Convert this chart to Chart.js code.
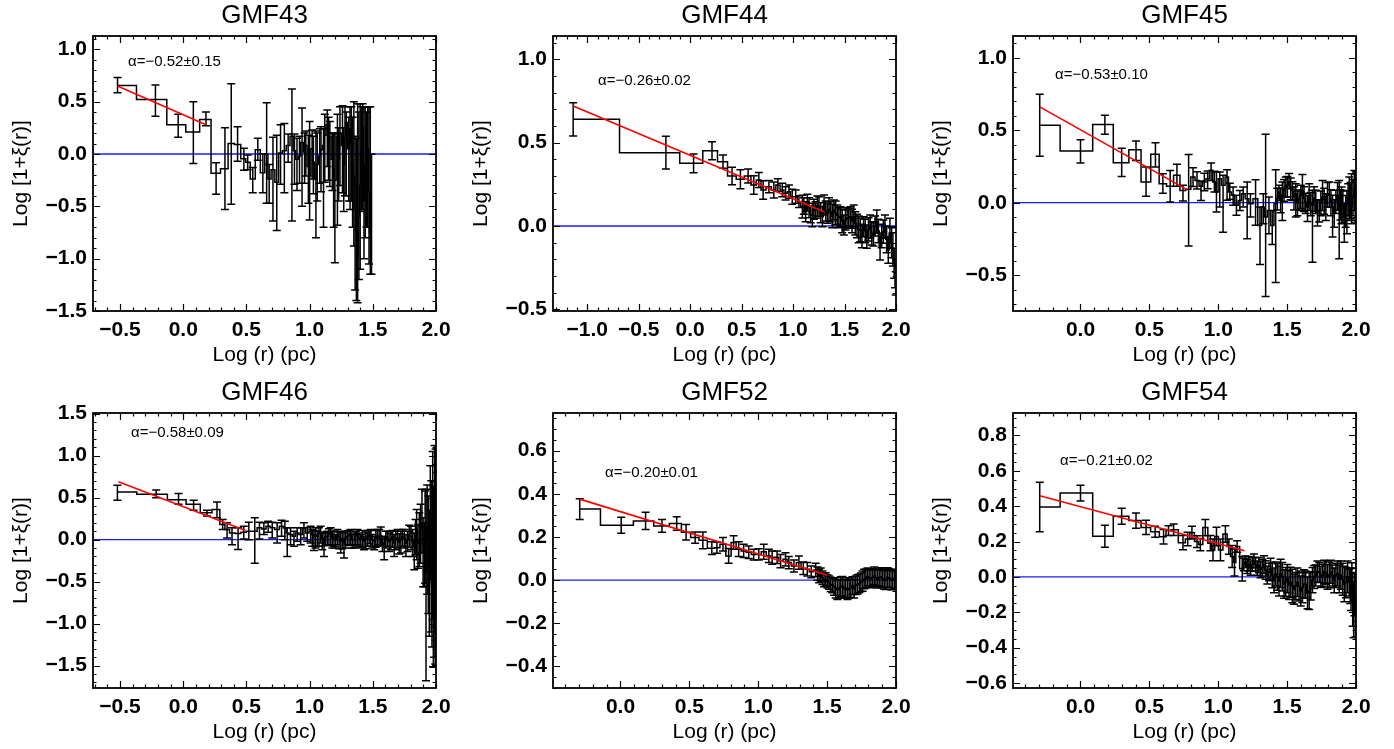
<!DOCTYPE html>
<html>
<head>
<meta charset="utf-8">
<script src="https://cdn.jsdelivr.net/npm/chart.js@4.4.1/dist/chart.umd.min.js"></script>
<style>
  body { margin: 0; background: #fff; }
  canvas { position: absolute; }
</style>
</head>
<body>
<canvas id="c43" width="460" height="372" style="left:0px;top:0px"></canvas>
<canvas id="c44" width="460" height="372" style="left:460px;top:0px"></canvas>
<canvas id="c45" width="460" height="372" style="left:920px;top:0px"></canvas>
<canvas id="c46" width="460" height="372" style="left:0px;top:377px"></canvas>
<canvas id="c52" width="460" height="372" style="left:460px;top:377px"></canvas>
<canvas id="c54" width="460" height="372" style="left:920px;top:377px"></canvas>
<script>
//// data: log r, log(1+xi), upper / lower error

let titles = ['GMF43', 'GMF44', 'GMF45', 'GMF46', 'GMF52', 'GMF54'];
let notes = ['α=−0.52±0.15', 'α=−0.26±0.02', 'α=−0.53±0.10', 'α=−0.58±0.09', 'α=−0.20±0.01', 'α=−0.21±0.02'];

// GMF43
let x43 = [-0.52,-0.22,-0.04,0.08,0.18,0.26,0.33,0.38,0.43,0.48,0.51,0.55,0.59,0.63,0.66,0.68,0.71,0.74,0.77,0.80,0.83,
  0.86,0.88,0.90,0.92,0.94,0.96,0.97,0.99,1.00,1.02,
  1.03,1.05,1.06,1.08,1.09,1.11,1.12,1.14,1.15,1.16,
  1.18,1.19,1.20,1.22,1.23,1.24,1.26,1.27,1.28,1.29,
  1.31,1.32,1.33,1.34,1.35,1.36,1.37,1.38,1.39,1.40,
  1.41,1.42,1.43,1.44,1.45,1.46,1.47,1.48,1.49];
let y43 = [0.655,0.52,0.28,0.21,0.33,-0.185,-0.14,0.10,0.09,-0.045,-0.08,-0.24,0.04,-0.18,0.00,-0.24,-0.15,-0.27,0.01,0.03,0.08,
  0.17,0.03,-0.05,-0.02,0.11,0.02,0.08,-0.12,-0.21,0.05,
  -0.08,-0.24,-0.10,-0.02,0.04,0.08,0.18,0.28,0.10,0.17,
  -0.05,-0.15,-0.25,0.17,-0.05,0.20,0.08,-0.10,0.15,0.30,
  0.05,0.24,0.10,-0.10,-0.21,-0.53,-0.75,-0.98,-0.60,-0.30,
  0.05,0.25,-0.45,-0.10,0.20,0.05,-0.35,-0.75,-0.60];
let up43 = [0.075,0.14,0.10,0.29,0.07,0.10,0.39,0.57,0.17,0.10,0.07,0.11,0.11,0.18,0.49,0.14,0.31,0.45,0.27,0.26,0.11,
  0.45,0.16,0.20,0.19,0.33,0.18,0.14,0.30,0.52,0.18,
  0.25,0.46,0.30,0.26,0.22,0.16,0.20,0.14,0.25,0.14,
  0.25,0.35,0.44,0.21,0.30,0.25,0.38,0.35,0.30,0.10,
  0.30,0.21,0.35,0.45,0.71,0.70,0.90,1.46,1.00,0.78,
  0.40,0.23,0.90,0.55,0.20,0.40,0.80,1.20,0.60];
let dn43 = [0.07,0.16,0.12,0.30,0.06,0.20,0.39,0.58,0.16,0.11,0.07,0.13,0.10,0.19,0.47,0.23,0.49,0.46,0.30,0.40,0.16,
  0.81,0.32,0.30,0.26,0.61,0.30,0.29,0.35,0.42,0.29,
  0.30,0.56,0.35,0.26,0.40,0.78,0.45,0.40,0.35,0.48,
  0.30,0.55,0.79,0.85,0.40,0.50,0.45,0.45,0.55,0.70,
  0.50,0.77,0.55,0.60,0.67,0.77,0.65,0.44,0.60,0.80,
  0.60,0.78,0.55,0.70,0.90,0.75,0.70,0.40,0.55];
let fitX43 = [-0.52, 0.18];
let fitY43 = [0.65, 0.28];
let xRange43 = [-0.714, 2.0];
let yRange43 = [-1.5, 1.127];
let xTicks43 = [-0.5, 0, 0.5, 1, 1.5, 2];
let yTicks43 = [-1.5, -1, -0.5, 0, 0.5, 1];

// GMF44
let x44 = [-1.137,-0.236,0.033,0.212,
  0.319,0.407,0.488,0.563,0.618,0.667,0.709,0.765,0.813,0.852,
  0.895,0.927,0.960,0.992,1.025,1.057,1.090,
  1.105,1.122,1.139,1.155,1.171,1.187,1.203,1.220,1.236,1.252,
  1.268,1.285,1.301,1.317,1.333,1.349,1.365,1.381,1.397,1.413,
  1.429,1.445,1.461,1.477,1.493,1.509,1.525,1.541,1.557,1.573,
  1.589,1.605,1.621,1.637,1.653,1.669,1.685,1.701,1.717,1.733,
  1.749,1.765,1.781,1.797,1.813,1.829,1.845,1.861,1.877,1.893,
  1.909,1.925,1.941,1.957,1.970,1.982,1.991,1.997];
let y44 = [0.64,0.44,0.376,0.452,
  0.386,0.30,0.28,0.30,0.246,0.276,0.216,0.236,0.216,0.246,
  0.216,0.196,0.206,0.176,0.176,0.146,0.116,
  0.12,0.086,0.14,0.11,0.07,0.066,0.10,0.096,0.12,0.116,
  0.08,0.056,0.126,0.09,0.076,0.10,0.086,0.06,0.096,0.08,
  0.066,0.05,0.056,0.03,0.006,0.036,0.05,0.046,0.056,0.03,
  0.056,0.016,0.0,-0.02,-0.024,-0.06,-0.004,-0.03,-0.064,-0.02,
  -0.004,-0.044,-0.05,0.0,0.026,-0.03,-0.124,-0.06,-0.034,-0.004,
  -0.08,-0.144,-0.044,-0.1,-0.14,-0.224,-0.28,-0.344];
let err44 = [0.10,0.098,0.056,0.054,
  0.04,0.053,0.057,0.042,0.055,0.045,0.055,0.037,0.048,0.037,
  0.04,0.04,0.04,0.045,0.04,0.035,0.068,
  0.05,0.06,0.05,0.06,0.05,0.07,0.06,0.05,0.06,0.06,
  0.06,0.06,0.06,0.06,0.06,0.07,0.06,0.07,0.06,0.07,
  0.06,0.06,0.06,0.07,0.06,0.06,0.06,0.06,0.06,0.07,
  0.07,0.07,0.07,0.08,0.07,0.07,0.06,0.07,0.07,0.07,
  0.07,0.07,0.07,0.06,0.07,0.07,0.08,0.07,0.07,0.07,
  0.08,0.08,0.09,0.09,0.10,0.09,0.09,0.07];
let fitX44 = [-1.137, 1.30];
let fitY44 = [0.72, 0.086];
let xRange44 = [-1.333, 2.0];
let yRange44 = [-0.51, 1.14];
let xTicks44 = [-1, -0.5, 0, 0.5, 1, 1.5, 2];
let yTicks44 = [-0.5, 0, 0.5, 1];

// GMF45
let x45 = [-0.296,0.0,0.177,0.299,0.403,0.476,0.544,0.598,0.651,0.70,0.744,0.785,
  0.817,0.846,0.875,0.899,0.923,0.948,0.972,0.987,1.011,1.035,
  1.064,1.084,1.108,1.132,1.157,1.181,1.210,1.234,1.271,1.303,
  1.327,1.344,1.368,1.392,
  1.417,1.429,1.441,1.453,1.465,1.478,1.490,1.502,1.514,1.526,
  1.538,1.550,1.563,1.575,1.587,1.599,1.611,1.623,1.635,1.648,
  1.660,1.672,1.684,1.696,1.708,1.720,1.733,1.745,1.757,1.769,
  1.781,1.793,1.806,1.818,1.830,1.842,1.854,1.866,1.878,1.887,
  1.895,1.905,1.915,1.925,1.934,1.943,1.951,1.960,1.968,1.978,
  1.988,1.994,2.0];
let y45 = [0.535,0.357,0.539,0.276,0.366,0.143,0.334,0.131,0.113,0.189,0.085,0.092,
  0.177,0.154,0.113,0.143,0.166,0.224,0.143,0.074,0.166,0.12,
  0.177,0.074,0.051,-0.018,0.016,0.062,0.028,-0.007,0.028,-0.157,
  -0.03,-0.099,-0.053,-0.157,
  -0.007,0.03,0.074,0.02,0.051,0.09,0.108,0.12,0.143,0.10,
  0.085,0.04,0.062,0.0,0.028,0.05,0.085,0.03,0.005,-0.03,
  0.039,0.0,-0.018,0.03,0.016,-0.06,-0.053,0.0,0.039,0.02,
  -0.007,0.06,0.051,0.01,-0.03,-0.07,0.016,0.05,-0.053,0.0,
  0.039,-0.02,-0.099,-0.05,-0.007,0.03,0.062,0.02,-0.03,0.04,
  0.085,0.0,0.028];
let up45 = [0.214,0.078,0.065,0.10,0.06,0.104,0.08,0.069,0.11,0.076,0.035,0.24,
  0.065,0.06,0.037,0.06,0.053,0.05,0.074,0.138,0.046,0.069,
  0.05,0.06,0.058,0.069,0.069,0.046,0.115,0.069,0.131,0.127,
  0.092,0.571,0.092,0.104,
  0.235,0.07,0.046,0.08,0.092,0.07,0.069,0.06,0.058,0.07,
  0.06,0.07,0.069,0.08,0.06,0.07,0.11,0.08,0.06,0.08,
  0.092,0.07,0.104,0.08,0.07,0.08,0.07,0.08,0.115,0.08,
  0.069,0.08,0.092,0.08,0.081,0.09,0.07,0.09,0.207,0.09,
  0.069,0.10,0.092,0.10,0.092,0.10,0.115,0.12,0.23,0.12,
  0.138,0.15,0.184];
let dn45 = [0.214,0.083,0.067,0.095,0.074,0.099,0.088,0.065,0.108,0.076,0.074,0.39,
  0.065,0.06,0.097,0.06,0.069,0.07,0.069,0.138,0.196,0.323,
  0.16,0.05,0.069,0.069,0.069,0.092,0.276,0.092,0.184,0.27,
  0.115,0.548,0.161,0.131,
  0.544,0.08,0.058,0.09,0.173,0.08,0.069,0.08,0.046,0.08,
  0.07,0.09,0.161,0.09,0.08,0.09,0.138,0.09,0.08,0.10,
  0.092,0.09,0.392,0.09,0.09,0.10,0.08,0.09,0.092,0.10,
  0.115,0.09,0.081,0.10,0.207,0.10,0.09,0.10,0.334,0.12,
  0.184,0.12,0.173,0.12,0.207,0.12,0.184,0.13,0.115,0.13,
  0.138,0.14,0.15];
let fitX45 = [-0.296, 0.773];
let fitY45 = [0.661, 0.09];
let xRange45 = [-0.49, 2.0];
let yRange45 = [-0.747, 1.15];
let xTicks45 = [0, 0.5, 1, 1.5, 2];
let yTicks45 = [-0.5, 0, 0.5, 1];

// GMF46
let x46 = [-0.521,-0.214,-0.037,0.082,0.188,0.267,
  0.312,0.347,0.386,0.434,0.479,0.519,0.566,0.603,0.638,0.672,
  0.704,0.743,0.778,0.804,0.823,0.849,0.876,0.902,0.929,0.955,
  0.981,
  1.008,1.021,1.034,1.047,1.061,1.074,1.087,1.100,1.114,1.127,
  1.140,1.153,1.167,1.180,1.193,1.206,1.220,1.233,1.246,1.259,
  1.272,1.285,1.299,1.312,1.325,1.338,1.352,1.365,1.378,1.391,
  1.405,1.418,1.431,1.444,1.458,1.471,1.484,1.497,1.511,1.524,
  1.537,1.550,1.563,1.576,1.590,1.603,1.616,1.629,1.643,1.656,
  1.669,1.682,1.696,1.709,1.722,1.735,1.749,1.762,1.775,1.788,
  1.802,1.815,1.828,1.838,1.847,1.857,1.868,1.878,1.889,1.898,
  1.907,1.914,1.921,1.930,1.939,1.947,1.955,1.962,1.968,1.974,
  1.979,1.984,1.989,1.994,1.997,2.0];
let y46 = [0.568,0.54,0.476,0.42,0.32,0.36,
  0.18,0.12,0.08,0.072,0.088,0.10,0.10,0.14,0.128,0.16,
  0.14,0.12,0.16,0.14,0.08,0.06,0.04,0.08,0.06,0.14,
  0.08,
  0.10,0.06,0.03,0.06,0.04,0.08,0.08,0.02,-0.04,0.03,
  0.04,0.07,0.08,0.02,0.04,0.0,0.06,0.03,-0.02,0.01,
  -0.04,0.02,0.04,0.05,0.06,0.0,0.0,0.04,0.06,0.02,
  0.0,0.03,-0.02,0.01,0.02,0.05,0.04,0.0,-0.02,0.03,
  0.02,0.04,0.05,-0.04,-0.06,0.0,0.02,-0.02,0.0,0.03,
  -0.04,0.0,0.02,-0.03,0.0,0.04,0.02,-0.04,0.0,0.05,
  0.04,-0.02,-0.08,0.06,0.10,-0.04,0.0,0.12,0.2,-0.06,
  -0.16,0.08,-0.4,0.15,0.0,-0.25,0.32,-0.1,-0.56,0.25,
  -0.08,-0.88,0.52,-1.08,0.32,-0.5];
let up46 = [0.08,0.05,0.072,0.05,0.03,0.088,
  0.06,0.08,0.06,0.07,0.07,0.108,0.16,0.068,0.072,0.06,
  0.068,0.08,0.072,0.08,0.06,0.08,0.06,0.06,0.08,0.06,
  0.06,
  0.06,0.06,0.08,0.08,0.06,0.06,0.08,0.06,0.12,0.06,
  0.06,0.06,0.06,0.08,0.06,0.06,0.06,0.06,0.12,0.08,
  0.12,0.08,0.06,0.06,0.06,0.06,0.08,0.06,0.06,0.06,
  0.06,0.08,0.06,0.08,0.06,0.06,0.08,0.06,0.06,0.08,
  0.1,0.08,0.1,0.06,0.1,0.1,0.08,0.1,0.1,0.08,
  0.1,0.1,0.1,0.1,0.1,0.08,0.1,0.1,0.1,0.12,
  0.12,0.14,0.16,0.18,0.26,0.22,0.32,0.3,0.4,0.32,
  0.36,0.5,1.0,0.5,0.52,0.6,0.56,0.8,0.56,0.8,
  0.72,0.6,0.6,0.6,0.76,0.9];
let dn46 = [0.10,0.04,0.056,0.07,0.04,0.10,
  0.06,0.10,0.14,0.19,0.08,0.10,0.38,0.132,0.068,0.072,
  0.12,0.16,0.12,0.14,0.28,0.12,0.12,0.10,0.12,0.12,
  0.10,
  0.14,0.14,0.16,0.16,0.12,0.16,0.12,0.14,0.16,0.10,
  0.10,0.14,0.14,0.12,0.12,0.10,0.12,0.14,0.14,0.12,
  0.18,0.12,0.10,0.12,0.12,0.10,0.10,0.10,0.12,0.10,
  0.10,0.12,0.10,0.12,0.10,0.10,0.12,0.10,0.10,0.12,
  0.10,0.10,0.12,0.10,0.18,0.10,0.10,0.12,0.12,0.12,
  0.16,0.12,0.12,0.14,0.16,0.12,0.12,0.16,0.14,0.14,
  0.16,0.18,0.28,0.24,0.34,0.30,0.32,0.40,0.36,0.50,
  0.40,0.60,1.28,0.80,0.88,0.90,0.80,1.0,0.72,1.2,
  1.44,0.52,1.56,0.40,1.52,1.0];
let fitX46 = [-0.513, 0.492];
let fitY46 = [0.688, 0.108];
let xRange46 = [-0.714, 2.0];
let yRange46 = [-1.767, 1.508];
let xTicks46 = [-0.5, 0, 0.5, 1, 1.5, 2];
let yTicks46 = [-1.5, -1, -0.5, 0, 0.5, 1, 1.5];

// GMF52
let x52 = [-0.296,0.005,0.182,0.301,0.408,
  0.476,0.542,0.598,0.663,0.700,0.744,0.785,0.821,0.858,0.894,
  0.931,0.967,1.004,1.040,1.077,1.101,1.137,1.162,1.198,1.222,
  1.259,1.295,1.327,1.356,1.385,
  1.417,1.430,1.442,1.454,1.466,1.478,1.490,1.502,1.514,1.526,
  1.538,1.550,1.562,1.575,1.587,1.599,1.611,1.623,1.635,1.648,
  1.660,1.672,1.684,1.696,1.708,1.720,1.733,1.745,1.757,1.769,
  1.781,1.793,1.805,1.818,1.830,1.842,1.854,1.866,1.878,1.891,
  1.903,1.915,1.927,1.939,1.951,1.964,1.976,1.988,2.0];
let y52 = [0.329,0.254,0.274,0.251,0.262,
  0.222,0.197,0.184,0.148,0.150,0.166,0.112,0.174,0.143,0.135,
  0.129,0.118,0.119,0.131,0.112,0.104,0.106,0.088,0.096,0.081,
  0.065,0.081,0.055,0.050,0.038,
  0.047,0.03,0.019,0.025,0.011,0.0,0.003,-0.006,-0.012,-0.02,
  -0.024,-0.03,-0.036,-0.045,-0.040,-0.03,-0.029,-0.04,-0.036,-0.045,
  -0.040,-0.035,-0.026,-0.04,-0.024,-0.02,-0.016,-0.01,-0.005,0.005,
  0.007,0.015,0.011,0.005,0.012,0.02,0.012,0.005,0.012,0.015,
  0.007,0.0,0.003,0.012,0.009,0.0,-0.001,0.006,0.0];
let err52 = [0.048,0.037,0.040,0.030,0.031,
  0.036,0.026,0.039,0.029,0.026,0.031,0.034,0.031,0.034,0.031,
  0.029,0.025,0.026,0.035,0.031,0.031,0.029,0.031,0.031,0.028,
  0.028,0.031,0.029,0.031,0.027,
  0.031,0.031,0.031,0.031,0.031,0.031,0.031,0.031,0.031,0.033,
  0.035,0.04,0.047,0.045,0.043,0.045,0.045,0.043,0.047,0.045,
  0.043,0.045,0.041,0.043,0.043,0.045,0.043,0.043,0.047,0.045,
  0.043,0.041,0.039,0.041,0.040,0.040,0.040,0.042,0.043,0.042,
  0.043,0.043,0.047,0.045,0.044,0.045,0.043,0.044,0.043];
let fitX52 = [-0.296, 1.502];
let fitY52 = [0.375, 0.022];
let xRange52 = [-0.49, 2.0];
let yRange52 = [-0.50, 0.774];
let xTicks52 = [0, 0.5, 1, 1.5, 2];
let yTicks52 = [-0.4, -0.2, 0, 0.2, 0.4, 0.6];

// GMF54
let x54 = [-0.296,0.0,0.177,0.299,0.403,0.476,
  0.542,0.603,0.639,0.676,0.744,0.778,0.809,0.846,0.870,0.906,
  0.943,0.962,0.987,1.016,1.052,1.077,1.101,1.118,1.137,
  1.174,1.186,1.198,1.210,1.222,1.235,1.247,1.259,1.271,1.283,
  1.295,1.307,1.320,1.332,1.344,1.356,1.368,1.380,1.392,1.405,
  1.417,1.429,1.441,1.453,1.465,1.478,1.490,1.502,1.514,1.526,
  1.538,1.550,1.563,1.575,1.587,1.599,1.611,1.623,1.635,1.648,
  1.660,1.672,1.684,1.696,1.708,1.720,1.733,1.745,1.757,1.769,
  1.781,1.793,1.806,1.818,1.830,1.842,1.854,1.866,1.878,1.890,
  1.903,1.915,1.927,1.939,1.951,1.958,1.964,1.970,1.976,1.983,1.989,1.995];
let y54 = [0.395,0.474,0.23,0.343,0.319,0.28,
  0.255,0.227,0.262,0.267,0.194,0.214,0.250,0.200,0.183,0.279,
  0.191,0.153,0.229,0.153,0.243,0.172,0.116,0.082,0.172,
  0.046,0.07,0.086,0.06,0.075,0.05,0.072,0.09,0.072,0.05,
  0.067,0.04,0.053,0.07,0.039,0.01,0.028,0.045,0.010,-0.02,
  0.017,0.0,-0.023,0.02,0.001,-0.04,-0.028,-0.01,-0.046,-0.03,
  -0.051,-0.07,-0.051,-0.03,-0.051,-0.08,-0.061,-0.04,-0.042,-0.09,
  -0.080,-0.05,-0.018,0.0,0.008,0.03,0.025,0.0,0.010,0.03,
  0.025,0.0,0.012,0.03,0.008,-0.02,0.009,0.02,-0.011,0.01,
  -0.013,-0.04,-0.032,0.0,-0.032,-0.05,-0.070,-0.03,-0.127,-0.184,-0.10,-0.22];
let err54 = [0.14,0.045,0.062,0.045,0.043,0.04,
  0.031,0.041,0.028,0.033,0.040,0.038,0.036,0.033,0.035,0.046,
  0.043,0.062,0.052,0.062,0.047,0.043,0.062,0.076,0.033,
  0.069,0.035,0.033,0.04,0.041,0.04,0.038,0.04,0.038,0.04,
  0.043,0.045,0.047,0.05,0.052,0.05,0.050,0.06,0.071,0.07,
  0.068,0.075,0.085,0.08,0.081,0.08,0.081,0.08,0.081,0.085,
  0.095,0.085,0.076,0.08,0.085,0.085,0.085,0.08,0.076,0.09,
  0.104,0.08,0.071,0.065,0.059,0.06,0.057,0.06,0.062,0.065,
  0.066,0.07,0.073,0.065,0.059,0.07,0.069,0.07,0.078,0.08,
  0.09,0.10,0.085,0.09,0.076,0.10,0.12,0.11,0.152,0.16,0.12,0.12];
let fitX54 = [-0.296, 1.191];
let fitY54 = [0.459, 0.148];
let xRange54 = [-0.49, 2.0];
let yRange54 = [-0.628, 0.927];
let xTicks54 = [0, 0.5, 1, 1.5, 2];
let yTicks54 = [-0.6, -0.4, -0.2, 0, 0.2, 0.4, 0.6, 0.8];

//// fonts, plugins

Chart.defaults.font.family = '"Liberation Sans", Arial, Helvetica, sans-serif';
Chart.defaults.color = '#000';

let fmt = function(v) {
    return Number(v).toFixed(1).replace('-', '\u2212');
};

// error bars drawn right after the histogram, so the red fit stays on top
const errorBars = {
    id: 'errorBars',
    afterDatasetDraw(chart, args) {
        let ds = chart.data.datasets[args.index];
        if (!ds.errUp) return;
        let xs = chart.scales.x, ys = chart.scales.y, ctx = chart.ctx, a = chart.chartArea;
        ctx.save();
        ctx.beginPath();
        ctx.rect(a.left, a.top, a.right - a.left, a.bottom - a.top);
        ctx.clip();
        ctx.strokeStyle = '#000';
        ctx.lineWidth = 1.5;
        ds.data.forEach(function(p, i) {
            let px = xs.getPixelForValue(p.x);
            let top = ys.getPixelForValue(p.y + ds.errUp[i]);
            let bot = ys.getPixelForValue(p.y - ds.errDn[i]);
            ctx.beginPath();
            ctx.moveTo(px, top); ctx.lineTo(px, bot);
            ctx.moveTo(px - 4, top); ctx.lineTo(px + 4, top);
            ctx.moveTo(px - 4, bot); ctx.lineTo(px + 4, bot);
            ctx.stroke();
        });
        ctx.restore();
    }
};

// IDL style box with inward ticks on all four sides, plus the alpha note
const frame = {
    id: 'frame',
    afterDraw(chart, args, opts) {
        let ctx = chart.ctx, a = chart.chartArea;
        let xs = chart.scales.x, ys = chart.scales.y;
        ctx.save();
        ctx.strokeStyle = '#000';
        ctx.lineWidth = 1.2;
        ctx.beginPath();
        let isMajor = function(scale, v) {
            return scale.ticks.some(t => Math.abs(t.value - v) < 1e-6);
        };
        for (let k = Math.ceil(xs.min / opts.xMinor - 1e-6); k * opts.xMinor <= xs.max + 1e-6; k++) {
            let v = k * opts.xMinor;
            let px = Math.round(xs.getPixelForValue(v)) + 0.5;
            let len = isMajor(xs, v) ? 7 : 3.5;
            ctx.moveTo(px, a.bottom); ctx.lineTo(px, a.bottom - len);
            ctx.moveTo(px, a.top); ctx.lineTo(px, a.top + len);
        }
        for (let k = Math.ceil(ys.min / opts.yMinor - 1e-6); k * opts.yMinor <= ys.max + 1e-6; k++) {
            let v = k * opts.yMinor;
            let py = Math.round(ys.getPixelForValue(v)) + 0.5;
            let len = isMajor(ys, v) ? 7 : 3.5;
            ctx.moveTo(a.left, py); ctx.lineTo(a.left + len, py);
            ctx.moveTo(a.right, py); ctx.lineTo(a.right - len, py);
        }
        ctx.stroke();
        ctx.lineWidth = 1.8;
        ctx.strokeRect(a.left, a.top, a.right - a.left, a.bottom - a.top);
        ctx.fillStyle = '#000';
        ctx.font = '15px "Liberation Sans", Arial, sans-serif';
        ctx.textBaseline = 'middle';
        ctx.textAlign = 'left';
        ctx.fillText(opts.note, a.left + opts.noteAt[0], a.top + opts.noteAt[1]);
        ctx.restore();
    }
};

function makePanel(id, title, note, noteAt, xv, yv, up, dn, fitX, fitY, xr, yr, xt, yt, yMinor) {
    let pts = xv.map((x, i) => ({x: x, y: yv[i]}));
    let fit = fitX.map((x, i) => ({x: x, y: fitY[i]}));
    new Chart(document.getElementById(id), {
        type: 'line',
        data: {
            datasets: [
                {label: 'fit', data: fit, borderColor: '#ff0000', borderWidth: 1.6, pointRadius: 0, order: 1},
                {label: 'xi', data: pts, stepped: 'middle', borderColor: '#000', borderWidth: 1.5,
                 pointRadius: 0, errUp: up, errDn: dn, order: 2},
                {label: 'zero', data: [{x: xr[0], y: 0}, {x: xr[1], y: 0}], borderColor: '#1a1aff',
                 borderWidth: 1.3, pointRadius: 0, order: 3}
            ]
        },
        options: {
            responsive: false,
            animation: false,
            events: [],
            layout: {padding: {left: 0, right: 24, top: 0, bottom: 0}},
            plugins: {
                legend: {display: false},
                tooltip: {enabled: false},
                title: {display: true, text: title, fullSize: false, color: '#000',
                        font: {size: 26, weight: 'normal'}, padding: {top: 0, bottom: 4.8}},
                frame: {note: note, noteAt: noteAt, xMinor: 0.1, yMinor: yMinor}
            },
            scales: {
                x: {
                    type: 'linear', min: xr[0], max: xr[1],
                    grid: {display: false, drawTicks: false},
                    border: {display: false},
                    afterBuildTicks: s => { s.ticks = xt.map(v => ({value: v})); },
                    afterFit: s => { s.height = 61; },
                    ticks: {callback: fmt, font: {size: 21, weight: 'bold'}, color: '#000',
                            padding: 7, maxRotation: 0, autoSkip: false},
                    title: {display: true, text: 'Log (r) (pc)', color: '#000',
                            font: {size: 21}, padding: {top: 0, bottom: 4.4}}
                },
                y: {
                    type: 'linear', min: yr[0], max: yr[1],
                    grid: {display: false, drawTicks: false},
                    border: {display: false},
                    afterBuildTicks: s => { s.ticks = yt.map(v => ({value: v})); },
                    afterFit: s => { s.width = 93; },
                    ticks: {callback: fmt, font: {size: 21, weight: 'bold'}, color: '#000',
                            padding: 6, autoSkip: false},
                    title: {display: true, text: 'Log [1+ξ(r)]', color: '#000',
                            font: {size: 21}, padding: {top: 9, bottom: 0}}
                }
            }
        },
        plugins: [errorBars, frame]
    });
}

makePanel('c43', titles[0], notes[0], [35, 26], x43, y43, up43, dn43, fitX43, fitY43, xRange43, yRange43, xTicks43, yTicks43, 0.1);
makePanel('c44', titles[1], notes[1], [45, 45], x44, y44, err44, err44, fitX44, fitY44, xRange44, yRange44, xTicks44, yTicks44, 0.1);
makePanel('c45', titles[2], notes[2], [42, 39], x45, y45, up45, dn45, fitX45, fitY45, xRange45, yRange45, xTicks45, yTicks45, 0.1);
makePanel('c46', titles[3], notes[3], [38, 20], x46, y46, up46, dn46, fitX46, fitY46, xRange46, yRange46, xTicks46, yTicks46, 0.1);
makePanel('c52', titles[4], notes[4], [52, 60], x52, y52, err52, err52, fitX52, fitY52, xRange52, yRange52, xTicks52, yTicks52, 0.05);
makePanel('c54', titles[5], notes[5], [47, 48], x54, y54, err54, err54, fitX54, fitY54, xRange54, yRange54, xTicks54, yTicks54, 0.05);
</script>
</body>
</html>
